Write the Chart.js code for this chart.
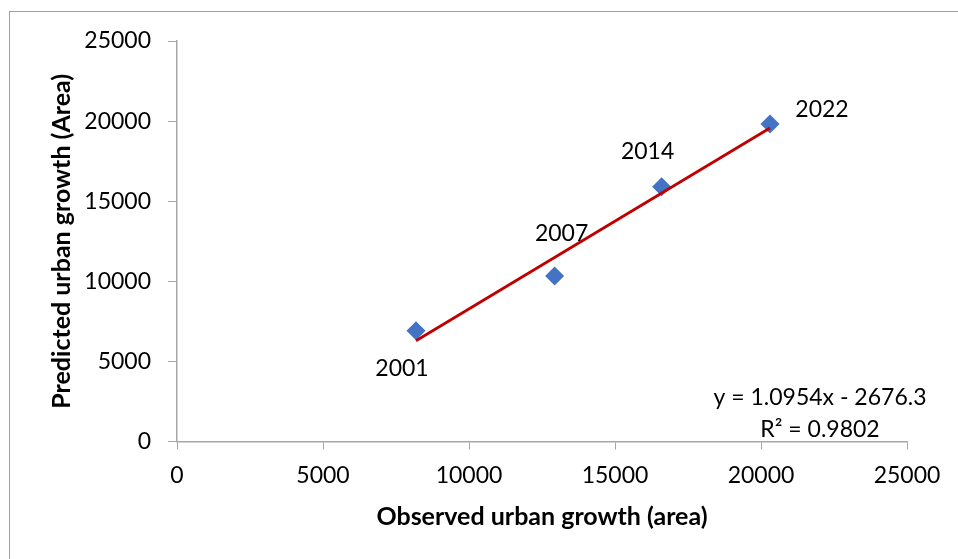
<!DOCTYPE html>
<html lang="en">
<head>
  <meta charset="UTF-8">
  <title>Observed vs Predicted urban growth</title>
  <script src="https://cdn.jsdelivr.net/npm/chart.js"></script>
  <style>
    html, body { margin: 0; padding: 0; background: #fff; }
    #wrap { width: 958px; height: 559px; position: relative; }
  </style>
</head>
<body>
  <div id="wrap"><canvas id="growthChart"></canvas></div>
  <script>
    // values
    const years = ["2001", "2007", "2014", "2022"];
    const observed = [8185, 12932, 16596, 20308];
    const predicted = [6916, 10331, 15905, 19819];
    const axisTicks = [0, 5000, 10000, 15000, 20000, 25000];
    // trendline shown on the chart
    const slope = 1.0954;
    const intercept = -2676.3;
    const equationLines = ["y = 1.0954x - 2676.3", "R\u00b2 = 0.9802"];

    // label offsets from each point (px)
    const labelOffsets = [[-14, 38], [7, -42], [-14, -35], [52, -14]];

    const FONT = "Lato, 'Open Sans', sans-serif";
    const axisGray = "#a6a6a6";

    const points = observed.map((x, i) => ({ x: x, y: predicted[i] }));
    const xMin = Math.min(...observed), xMax = Math.max(...observed);
    const trend = [
      { x: xMin, y: slope * xMin + intercept },
      { x: xMax, y: slope * xMax + intercept }
    ];

    const extras = {
      id: "extras",
      beforeDraw(chart) {
        const ctx = chart.ctx;
        ctx.save();
        ctx.strokeStyle = "#a0a0a0";
        ctx.lineWidth = 1;
        ctx.strokeRect(9.5, 11.5, 1200, 1200);
        ctx.restore();
      },
      afterDatasetsDraw(chart) {
        const ctx = chart.ctx;
        const meta = chart.getDatasetMeta(1);
        ctx.save();
        ctx.font = "23px " + FONT;
        ctx.fillStyle = "#000";
        ctx.textAlign = "center";
        ctx.textBaseline = "middle";
        meta.data.forEach((pt, i) => {
          ctx.fillText(years[i], pt.x + labelOffsets[i][0], pt.y + labelOffsets[i][1]);
        });
        ctx.fillText(equationLines[0], 820, 398);
        ctx.fillText(equationLines[1], 820, 430);
        ctx.restore();
      }
    };

    const plain = v => String(v);

    new Chart(document.getElementById("growthChart"), {
      type: "scatter",
      data: {
        datasets: [
          {
            type: "line",
            data: trend,
            borderColor: "#c00000",
            borderWidth: 2.75,
            pointRadius: 0,
            fill: false
          },
          {
            data: points,
            pointStyle: "rectRot",
            pointRadius: 9.5,
            backgroundColor: "#4472c4",
            borderColor: "#4472c4",
            borderWidth: 0
          }
        ]
      },
      options: {
        responsive: true,
        maintainAspectRatio: false,
        animation: false,
        layout: { padding: { left: 0, right: 51, top: 41, bottom: 0 } },
        plugins: { legend: { display: false }, tooltip: { enabled: false } },
        scales: {
          x: {
            type: "linear",
            min: 0, max: 25000,
            afterBuildTicks: s => { s.ticks = axisTicks.map(v => ({ value: v })); },
            afterFit: s => { s.height = 117.5; },
            border: { display: true, color: axisGray, width: 1.5 },
            grid: { drawOnChartArea: false, drawTicks: true, tickLength: 8, color: axisGray },
            ticks: { font: { family: FONT, size: 23 }, color: "#000", padding: 12, maxRotation: 0, callback: plain },
            title: {
              display: true,
              text: "Observed urban growth (area)",
              font: { family: FONT, size: 25, weight: "bold" },
              color: "#000",
              padding: { top: 0, bottom: 27 }
            }
          },
          y: {
            type: "linear",
            min: 0, max: 25000,
            afterBuildTicks: s => { s.ticks = axisTicks.map(v => ({ value: v })); },
            afterFit: s => { s.width = 177; },
            border: { display: true, color: axisGray, width: 1.5 },
            grid: { drawOnChartArea: false, drawTicks: true, tickLength: 9, color: axisGray },
            ticks: { font: { family: FONT, size: 23 }, color: "#000", padding: 17, callback: plain },
            title: {
              display: true,
              text: "Predicted urban growth (Area)",
              font: { family: FONT, size: 25, weight: "bold" },
              color: "#000",
              padding: { top: 47, bottom: 0 }
            }
          }
        }
      },
      plugins: [extras]
    });
  </script>
</body>
</html>
